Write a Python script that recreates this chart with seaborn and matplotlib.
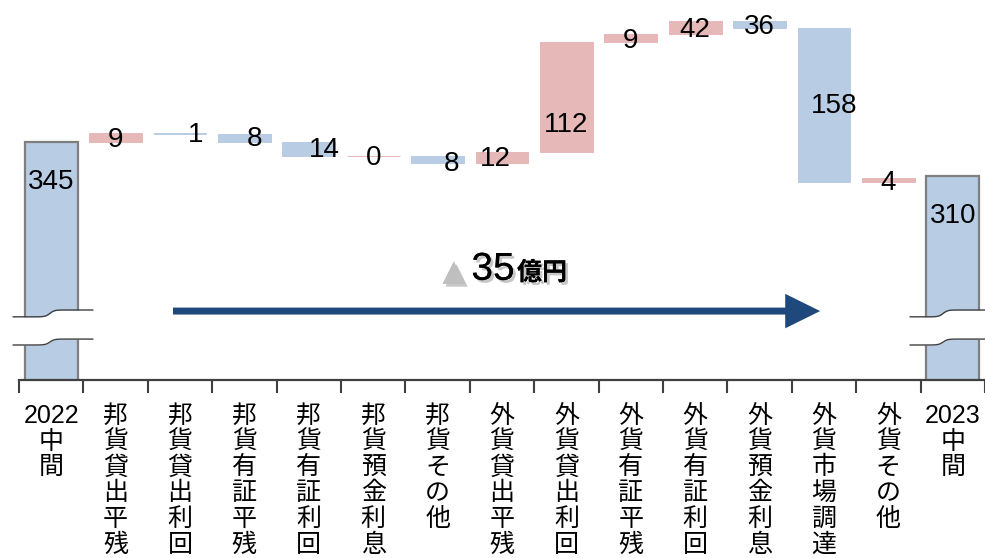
import numpy as np
import pandas as pd
import matplotlib
matplotlib.use("Agg")
import matplotlib.pyplot as plt
import matplotlib.transforms as mtransforms
import matplotlib.patheffects as pe
import seaborn as sns

# ---------------- data ----------------
categories = ["2022中間", "邦貨貸出平残", "邦貨貸出利回", "邦貨有証平残", "邦貨有証利回",
              "邦貨預金利息", "邦貨その他", "外貨貸出平残", "外貨貸出利回", "外貨有証平残",
              "外貨有証利回", "外貨預金利息", "外貨市場調達", "外貨その他", "2023中間"]
tick_labels = ["2022\n中\n間", "邦\n貨\n貸\n出\n平\n残", "邦\n貨\n貸\n出\n利\n回",
               "邦\n貨\n有\n証\n平\n残", "邦\n貨\n有\n証\n利\n回", "邦\n貨\n預\n金\n利\n息",
               "邦\n貨\nそ\nの\n他", "外\n貨\n貸\n出\n平\n残", "外\n貨\n貸\n出\n利\n回",
               "外\n貨\n有\n証\n平\n残", "外\n貨\n有\n証\n利\n回", "外\n貨\n預\n金\n利\n息",
               "外\n貨\n市\n場\n調\n達", "外\n貨\nそ\nの\n他", "2023\n中\n間"]
start_total = 345
end_total = 310
changes = [9, -1, -8, -14, 0, -8, 12, 112, 9, 42, -36, -158, 4]
total_text = "35"

# ---------------- styling ----------------
sns.set_theme(style="white")
plt.rcParams["font.family"] = ["Liberation Sans", "Noto Sans CJK JP", "DejaVu Sans"]
plt.rcParams["text.color"] = "black"
plt.rcParams["xtick.color"] = "black"

RED = "#E6B8B7"
BLUE = "#B8CCE4"
AXC = "#404040"
YMIN, YMAX = 101, 469

# waterfall geometry derived from the data
bottoms, heights, kinds, labels = [], [], [], []
bottoms.append(0); heights.append(start_total); kinds.append("total"); labels.append(start_total)
run = start_total
for d in changes:
    nxt = run + d
    bottoms.append(min(run, nxt)); heights.append(abs(d))
    kinds.append("up" if d >= 0 else "down"); labels.append(abs(d))
    run = nxt
bottoms.append(0); heights.append(end_total); kinds.append("total"); labels.append(end_total)

df = pd.DataFrame({"cat": categories, "height": heights})

fig = plt.figure(figsize=(9.85, 5.58), dpi=100)
ax = fig.add_axes([19 / 985, 1 - 380 / 558, 966 / 985, 359 / 558])

sns.barplot(data=df, x="cat", y="height", order=categories, bottom=np.array(bottoms, float),
            width=0.82, errorbar=None, ax=ax, color=BLUE, saturation=1)

for p, k in zip(ax.patches, kinds):
    if k == "total":
        p.set_facecolor(BLUE); p.set_edgecolor("#7F7F7F"); p.set_linewidth(1.6)
    else:
        c = RED if k == "up" else BLUE
        p.set_facecolor(c); p.set_edgecolor(c); p.set_linewidth(0.7)
    p.set_zorder(2)

ax.set_ylim(YMIN, YMAX)
ax.set_xlim(-0.5, len(categories) - 0.5)
ax.set_xlabel(""); ax.set_ylabel("")
ax.set_yticks([])
for s in ["top", "right", "left"]:
    ax.spines[s].set_visible(False)
ax.spines["bottom"].set_color(AXC)
ax.spines["bottom"].set_linewidth(1.6)

# ticks at category boundaries, labels at centres
n = len(categories)
ax.set_xticks(np.arange(-0.5, n, 1.0))
ax.set_xticklabels([""] * (n + 1))
ax.set_xticks(np.arange(n), minor=True)
ax.set_xticklabels(tick_labels, minor=True, fontsize=18, linespacing=1.1, color="black",
                   family=["Liberation Sans", "Noto Sans CJK JP"])
ax.tick_params(axis="x", which="major", length=9, width=1.5, color=AXC, direction="out", bottom=True)
ax.tick_params(axis="x", which="minor", length=0, pad=17, bottom=True)

# data labels
label_nudge = {2: (11, -1), 3: (7, -1), 4: (11, -1), 6: (10, -3), 7: (-5, -1), 8: (0, -20), 12: (7, -1)}
for i, (b, h, k, lab) in enumerate(zip(bottoms, heights, kinds, labels)):
    if k == "total":
        ax.annotate(str(lab), xy=(i, b + h), xytext=(0, -29), textcoords="offset points",
                    ha="center", va="center", fontsize=20, color="black", zorder=5)
    else:
        lo, hi = max(b, YMIN), min(b + h, YMAX)
        ax.annotate(str(lab), xy=(i, (lo + hi) / 2), xytext=label_nudge.get(i, (0, -2)),
                    textcoords="offset points", ha="center", va="center", fontsize=20,
                    color="black", zorder=5)

# axis break marks
blend = mtransforms.blended_transform_factory(ax.transData, ax.transAxes)

def wave(x0, x1, xm, ylo, yhi, npts=80):
    xs = np.linspace(x0, x1, npts)
    ys = ylo + (yhi - ylo) * (0.5 + 0.5 * np.tanh((xs - xm) / 0.07))
    return xs, ys

for (x0, x1, xm) in [(-0.593, 0.649, -0.02), (13.335, 14.6, 13.85)]:
    xs, yu = wave(x0, x1, xm, 0.176, 0.195)
    _, yl = wave(x0, x1, xm, 0.0975, 0.114)
    ax.fill_between(xs, yl, yu, color="white", transform=blend, zorder=3, clip_on=False, lw=0)
    ax.plot(xs, yu, color=AXC, lw=1.0, transform=blend, zorder=4, clip_on=False)
    ax.plot(xs, yl, color=AXC, lw=1.0, transform=blend, zorder=4, clip_on=False)

# arrow
ax.annotate("", xy=(11.94, 0.192), xytext=(1.891, 0.192), xycoords=blend, textcoords=blend,
            arrowprops=dict(arrowstyle="-|>,head_length=0.85,head_width=0.42", mutation_scale=20,
                            lw=5, color="#1F497D", shrinkA=0, shrinkB=0, capstyle="butt",
                            joinstyle="miter"), zorder=4)

# total change text
shadow = [pe.withSimplePatchShadow(offset=(2, -2), shadow_rgbFace="#999999", alpha=0.55), pe.Normal()]
ax.text((465 - 19) / 966, 0.30, "▲", transform=ax.transAxes, ha="right", va="center",
        fontsize=21, color="#BFBFBF", family=["DejaVu Sans"], path_effects=shadow)
ax.text((493 - 19) / 966, 0.307, total_text, transform=ax.transAxes, ha="center", va="center",
        fontsize=28, color="black", path_effects=shadow)
ax.text((517 - 19) / 966, 0.298, "億円", transform=ax.transAxes, ha="left", va="center",
        fontsize=18, fontweight="bold", color="black",
        family=["Noto Sans CJK JP"], path_effects=shadow)

fig.savefig("out.png", dpi=100)
